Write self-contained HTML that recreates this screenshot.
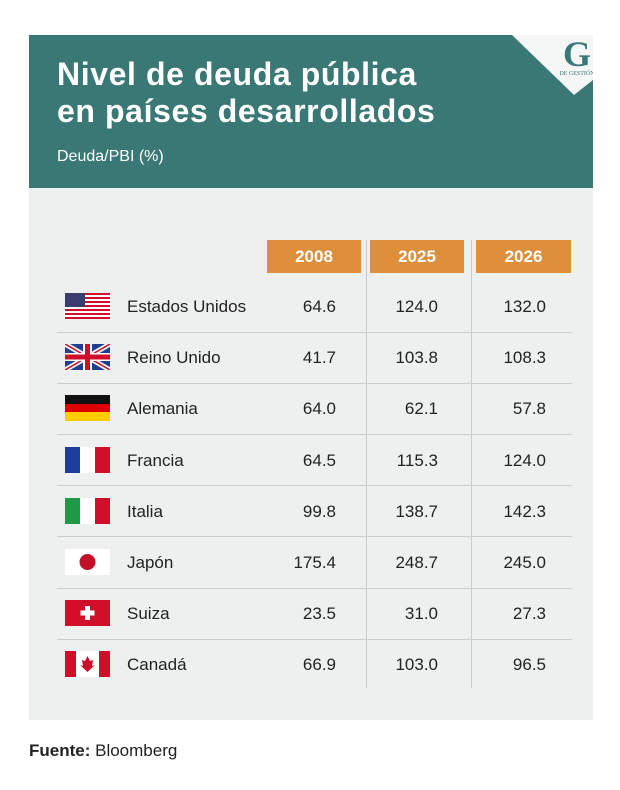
<!DOCTYPE html>
<html><head><meta charset="utf-8"><style>
body{margin:0;width:620px;height:790px;background:#fff;font-family:"Liberation Sans",sans-serif;position:relative;overflow:hidden}
#hdr{position:absolute;left:29px;top:35px;width:564px;height:153px;background:#3a7876;overflow:hidden}
#t1{position:absolute;left:28px;top:21px;color:#fff;font-weight:bold;font-size:32px;line-height:37px;letter-spacing:0.6px}
#sub{position:absolute;left:28px;top:113px;color:#fff;font-size:16px}
#body{position:absolute;left:29px;top:188px;width:564px;height:532px;background:#eef0f0}
.yh{position:absolute;top:240px;height:33px;background:#dd8f3c;color:#fff;font-weight:bold;font-size:17px;text-align:center;line-height:33px}
.vl{position:absolute;top:240px;width:1px;height:448px;background:#c8cccc}
.hl{position:absolute;left:57px;width:515px;height:1px;background:#c8d0ce}
.nm{position:absolute;left:127px;font-size:17px;color:#222}
.v{position:absolute;font-size:17px;color:#222;text-align:right;width:80px}
#src{position:absolute;left:29px;top:741px;font-size:17px;color:#222}
</style></head><body>
<div id="hdr">
<div id="t1">Nivel de deuda pública<br>en países desarrollados</div>
<div id="sub">Deuda/PBI (%)</div>
<svg style="position:absolute;left:480px;top:0" width="84" height="70">
<polygon points="3,0 84,0 84,45 65,60" fill="#f4f5f5"/>
<text x="68" y="31" font-family="Liberation Serif" font-size="36" font-weight="bold" fill="#3a7876" text-anchor="middle">G</text>
<text x="68" y="40" font-family="Liberation Serif" font-size="6" fill="#3a7876" text-anchor="middle">DE GESTIÓN</text>
</svg>
</div>
<div id="body"></div>
<div class="yh" style="left:267px;width:94px">2008</div>
<div class="yh" style="left:370px;width:94px">2025</div>
<div class="yh" style="left:476px;width:95px">2026</div>
<div class="vl" style="left:366px"></div>
<div class="vl" style="left:471px"></div>
<div id="rows"></div>
<div id="src"><b>Fuente:</b> Bloomberg</div>
<script>
const countries=["Estados Unidos","Reino Unido","Alemania","Francia","Italia","Japón","Suiza","Canadá"];
const flags=["us","uk","de","fr","it","jp","ch","ca"];
const v2008=["64.6","41.7","64.0","64.5","99.8","175.4","23.5","66.9"];
const v2025=["124.0","103.8","62.1","115.3","138.7","248.7","31.0","103.0"];
const v2026=["132.0","108.3","57.8","124.0","142.3","245.0","27.3","96.5"];
function flagSvg(f){
 const R="#d0102a";
 if(f==="us"){let s='';for(let i=0;i<13;i++)s+=`<rect y="${i*2}" width="45" height="2" fill="${i%2?'#fff':R}"/>`;return s+'<rect width="20" height="14" fill="#3c3b6e"/>';}
 if(f==="uk")return '<rect width="45" height="26" fill="#1f3f8f"/><path d="M0,0L45,26M45,0L0,26" stroke="#fff" stroke-width="5"/><path d="M0,0L45,26M45,0L0,26" stroke="'+R+'" stroke-width="1.6"/><rect x="18" width="9" height="26" fill="#fff"/><rect y="9" width="45" height="8" fill="#fff"/><rect x="20" width="5" height="26" fill="'+R+'"/><rect y="10.5" width="45" height="5" fill="'+R+'"/>';
 if(f==="de")return '<rect width="45" height="9" fill="#111"/><rect y="9" width="45" height="9" fill="#d00"/><rect y="17" width="45" height="9" fill="#fc0"/>';
 if(f==="fr")return '<rect width="15" height="26" fill="#1f3f9f"/><rect x="15" width="15" height="26" fill="#fff"/><rect x="30" width="15" height="26" fill="'+R+'"/>';
 if(f==="it")return '<rect width="15" height="26" fill="#1e9a46"/><rect x="15" width="15" height="26" fill="#fff"/><rect x="30" width="15" height="26" fill="'+R+'"/>';
 if(f==="jp")return '<rect width="45" height="26" fill="#fff"/><circle cx="22.5" cy="13" r="8" fill="#c0102a"/>';
 if(f==="ch")return '<rect width="45" height="26" fill="'+R+'"/><rect x="20" y="6" width="5" height="14" fill="#fff"/><rect x="15.5" y="10.5" width="14" height="5" fill="#fff"/>';
 if(f==="ca")return '<rect width="45" height="26" fill="#fff"/><rect width="11" height="26" fill="'+R+'"/><rect x="34" width="11" height="26" fill="'+R+'"/><path d="M22.5,5L25,10L28,9L27,15L30,14L22.5,21L15,14L18,15L17,9L20,10Z" fill="'+R+'"/>';
}
const rows=document.getElementById('rows');
countries.forEach((c,i)=>{
 const cy=306+i*51.2;
 if(i>0){const l=document.createElement('div');l.className='hl';l.style.top=(cy-25.6)+'px';
 
 rows.appendChild(l);}
 const fl=document.createElementNS('http://www.w3.org/2000/svg','svg');
 fl.setAttribute('width','45');fl.setAttribute('height','26');
 fl.style.cssText=`position:absolute;left:65px;top:${cy-13}px`;
 fl.innerHTML=flagSvg(flags[i]);
 
 
 rows.appendChild(fl);
 const n=document.createElement('div');n.className='nm';n.textContent=c;n.style.top=(cy-9)+'px';
 
 
 rows.appendChild(n);
 [[v2008,256],[v2025,358],[v2026,466]].forEach(([arr,x])=>{
  const d=document.createElement('div');d.className='v';d.textContent=arr[i];
  d.style.left=x+'px';d.style.top=(cy-9)+'px';
  
  
  rows.appendChild(d);
 });
});
</script>
</body></html>
